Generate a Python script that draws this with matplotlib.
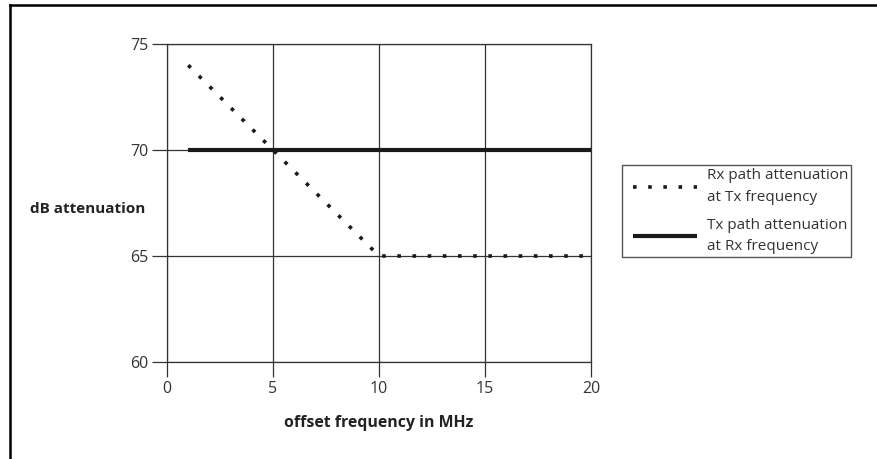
import matplotlib
matplotlib.use('Agg')
import matplotlib.pyplot as plt
from matplotlib.lines import Line2D
from matplotlib.legend_handler import HandlerLine2D

# data
rx_x = [1, 5, 10, 20]
rx_y = [74, 70, 65, 65]
tx_x = [1, 20]
tx_y = [70, 70]
x_ticks = [0, 5, 10, 15, 20]
y_ticks = [60, 65, 70, 75]

plt.rcParams['font.family'] = ['Open Sans', 'DejaVu Sans']

fig = plt.figure(figsize=(8.77, 4.59), dpi=100)
ax = fig.add_axes([167/877, 1 - 362/459, 424/877, 318/459])

grid_c = '#333333'
rx_line, = ax.plot(rx_x, rx_y, color='#1a1a1a', lw=2.6, linestyle=(0, (1, 3.2)),
                   dash_capstyle='butt', clip_on=False, zorder=3,
                   label='Rx path attenuation\nat Tx frequency')
tx_line, = ax.plot(tx_x, tx_y, color='#1a1a1a', lw=3.0, solid_capstyle='butt',
                   clip_on=False, zorder=3,
                   label='Tx path attenuation\nat Rx frequency')

ax.set_xlim(0, 20)
ax.set_ylim(60, 75)
ax.set_xticks(x_ticks)
ax.set_yticks(y_ticks)
ax.grid(True, color=grid_c, lw=0.9)
for s in ax.spines.values():
    s.set_color(grid_c)
    s.set_linewidth(0.9)
ax.tick_params(length=11, width=0.9, color=grid_c, labelsize=11.5,
               labelcolor='#333333')
ax.tick_params(axis='y', pad=2.5)
ax.tick_params(axis='x', pad=3)

ax.set_xlabel('offset frequency in MHz', fontsize=11.4, fontweight='bold',
              color='#222222', va='center')
ax.xaxis.set_label_coords(0.5, -0.192)
ax.set_ylabel('dB attenuation', fontsize=11, fontweight='bold',
              color='#222222', rotation=0, ha='left', va='center')
ax.yaxis.set_label_coords(-0.323, 0.481)

hmap = {rx_line: HandlerLine2D(numpoints=2, marker_pad=0.52),
        tx_line: HandlerLine2D(numpoints=2, marker_pad=0.52)}
leg = fig.legend(handles=[rx_line, tx_line], handler_map=hmap,
                 loc='upper left', bbox_to_anchor=(622/877, 1 - 165/459),
                 borderaxespad=0, fontsize=11, frameon=True, fancybox=False,
                 edgecolor='#555555', framealpha=1, handlelength=5.24,
                 handletextpad=0.1, labelspacing=0.85, borderpad=0.2,
                 labelcolor='#333333')
for t in leg.get_texts():
    t.set_linespacing(1.6)

# outer frame (left and top only)
fig.add_artist(Line2D([10/877, 10/877], [0, 1 - 5/459], color='black', lw=1.8))
fig.add_artist(Line2D([10/877, 1], [1 - 5/459, 1 - 5/459], color='black', lw=1.8))

fig.savefig('out.png', dpi=100)
